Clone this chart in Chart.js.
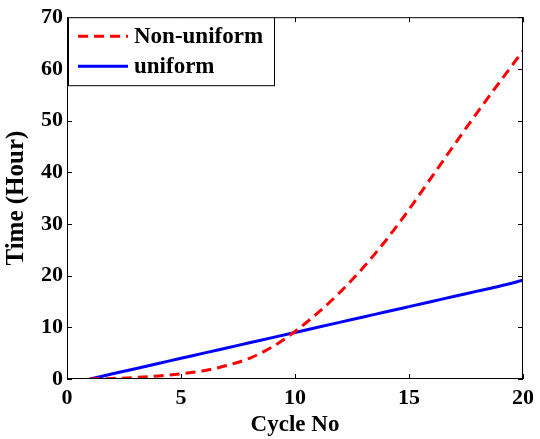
<!DOCTYPE html>
<html>
<head>
<meta charset="utf-8">
<script src="https://cdn.jsdelivr.net/npm/chart.js@4.4.1/dist/chart.umd.min.js"></script>
<style>
  html, body { margin: 0; padding: 0; background: #fff; }
  #wrap { width: 540px; height: 439px; }
</style>
</head>
<body>
<div id="wrap"><canvas id="c" width="540" height="439"></canvas></div>
<script>
// Cycle numbers and the time (hours) needed for each cycle
const cycles = [1, 2, 3, 4, 5, 6, 7, 8, 9, 10, 11, 12, 13, 14, 15, 16, 17, 18, 19, 20];
const nonUniform = [0, 0.1, 0.3, 0.6, 1.0, 1.6, 2.6, 4.0, 6.2, 9.2, 12.8, 16.9, 21.6, 26.9, 32.8, 39.1, 45.4, 51.6, 57.6, 63.5];
const uniform = [0, 1, 2, 3, 4, 5, 6, 7, 8, 9, 10, 11, 12, 13, 14, 15, 16, 17, 18, 19.1];
const xTicks = [0, 5, 10, 15, 20];
const yTicks = [0, 10, 20, 30, 40, 50, 60, 70];
const seriesNames = ['Non-uniform', 'uniform'];

const FONT = "'Liberation Serif', 'Times New Roman', serif";

// Box frame with inward tick marks on all four sides, plus the boxed legend
const framePlugin = {
  id: 'frame',
  afterDatasetsDraw(chart) {
    const { ctx, chartArea: a, scales } = chart;
    ctx.save();
    ctx.strokeStyle = '#000';
    ctx.lineWidth = 1;
    ctx.strokeRect(a.left + 0.5, a.top + 0.5, a.right - a.left - 1, a.bottom - a.top - 1);
    const tl = 5;
    ctx.beginPath();
    xTicks.forEach(v => {
      const x = Math.round(scales.x.getPixelForValue(v)) + 0.5;
      ctx.moveTo(x, a.bottom); ctx.lineTo(x, a.bottom - tl);
      ctx.moveTo(x, a.top); ctx.lineTo(x, a.top + tl);
    });
    yTicks.forEach(v => {
      const y = Math.round(scales.y.getPixelForValue(v)) + 0.5;
      ctx.moveTo(a.left, y); ctx.lineTo(a.left + tl, y);
      ctx.moveTo(a.right, y); ctx.lineTo(a.right - tl, y);
    });
    ctx.stroke();

    // legend box in the upper-left corner of the plot
    const bx = a.left + 1, by = a.top, bw = 206, bh = 68;
    ctx.fillStyle = '#fff';
    ctx.fillRect(bx, by, bw, bh);
    ctx.strokeStyle = '#000';
    ctx.strokeRect(bx + 0.5, by + 0.5, bw, bh);
    ctx.font = "bold 23px " + FONT;
    ctx.textBaseline = 'middle';
    chart.data.datasets.forEach((ds, i) => {
      const y = by + 19 + i * 30;
      ctx.strokeStyle = ds.borderColor;
      ctx.lineWidth = 3;
      ctx.setLineDash(ds.borderDash || []);
      ctx.beginPath();
      ctx.moveTo(bx + 10, y); ctx.lineTo(bx + 60, y);
      ctx.stroke();
      ctx.setLineDash([]);
      ctx.fillStyle = '#000';
      ctx.fillText(ds.label, bx + 66, y + 1);
    });
    ctx.restore();
  }
};

new Chart(document.getElementById('c'), {
  type: 'line',
  data: {
    datasets: [
      {
        label: seriesNames[0],
        data: cycles.map((c, i) => ({ x: c, y: nonUniform[i] })),
        borderColor: '#ff0000',
        borderWidth: 3,
        borderDash: [10, 6],
        pointRadius: 0,
        cubicInterpolationMode: 'monotone',
        fill: false
      },
      {
        label: seriesNames[1],
        data: cycles.map((c, i) => ({ x: c, y: uniform[i] })),
        borderColor: '#0000ff',
        borderWidth: 3,
        pointRadius: 0,
        cubicInterpolationMode: 'monotone',
        fill: false
      }
    ]
  },
  options: {
    responsive: false,
    animation: false,
    layout: { padding: { top: 14, right: 12, left: 0, bottom: 0 } },
    plugins: { legend: { display: false }, tooltip: { enabled: false } },
    scales: {
      x: {
        type: 'linear',
        min: 0, max: 20,
        afterBuildTicks: s => { s.ticks = xTicks.map(v => ({ value: v })); },
        afterFit: s => { s.height = 60; },
        grid: { display: false, drawTicks: false },
        border: { display: false },
        ticks: { color: '#000', padding: 6, font: { family: FONT, size: 22, weight: 'bold' }, maxRotation: 0 },
        title: { display: true, text: 'Cycle No', color: '#000', padding: { top: 0, bottom: 0 }, font: { family: FONT, size: 23, weight: 'bold' } }
      },
      y: {
        min: 0, max: 70,
        afterBuildTicks: s => { s.ticks = yTicks.map(v => ({ value: v })); },
        afterFit: s => { s.width = 67; },
        grid: { display: false, drawTicks: false },
        border: { display: false },
        ticks: { color: '#000', padding: 4, font: { family: FONT, size: 22, weight: 'bold' } },
        title: { display: true, text: 'Time (Hour)', color: '#000', padding: { top: 2, bottom: 0 }, font: { family: FONT, size: 25, weight: 'bold' } }
      }
    }
  },
  plugins: [framePlugin]
});
</script>
</body>
</html>
